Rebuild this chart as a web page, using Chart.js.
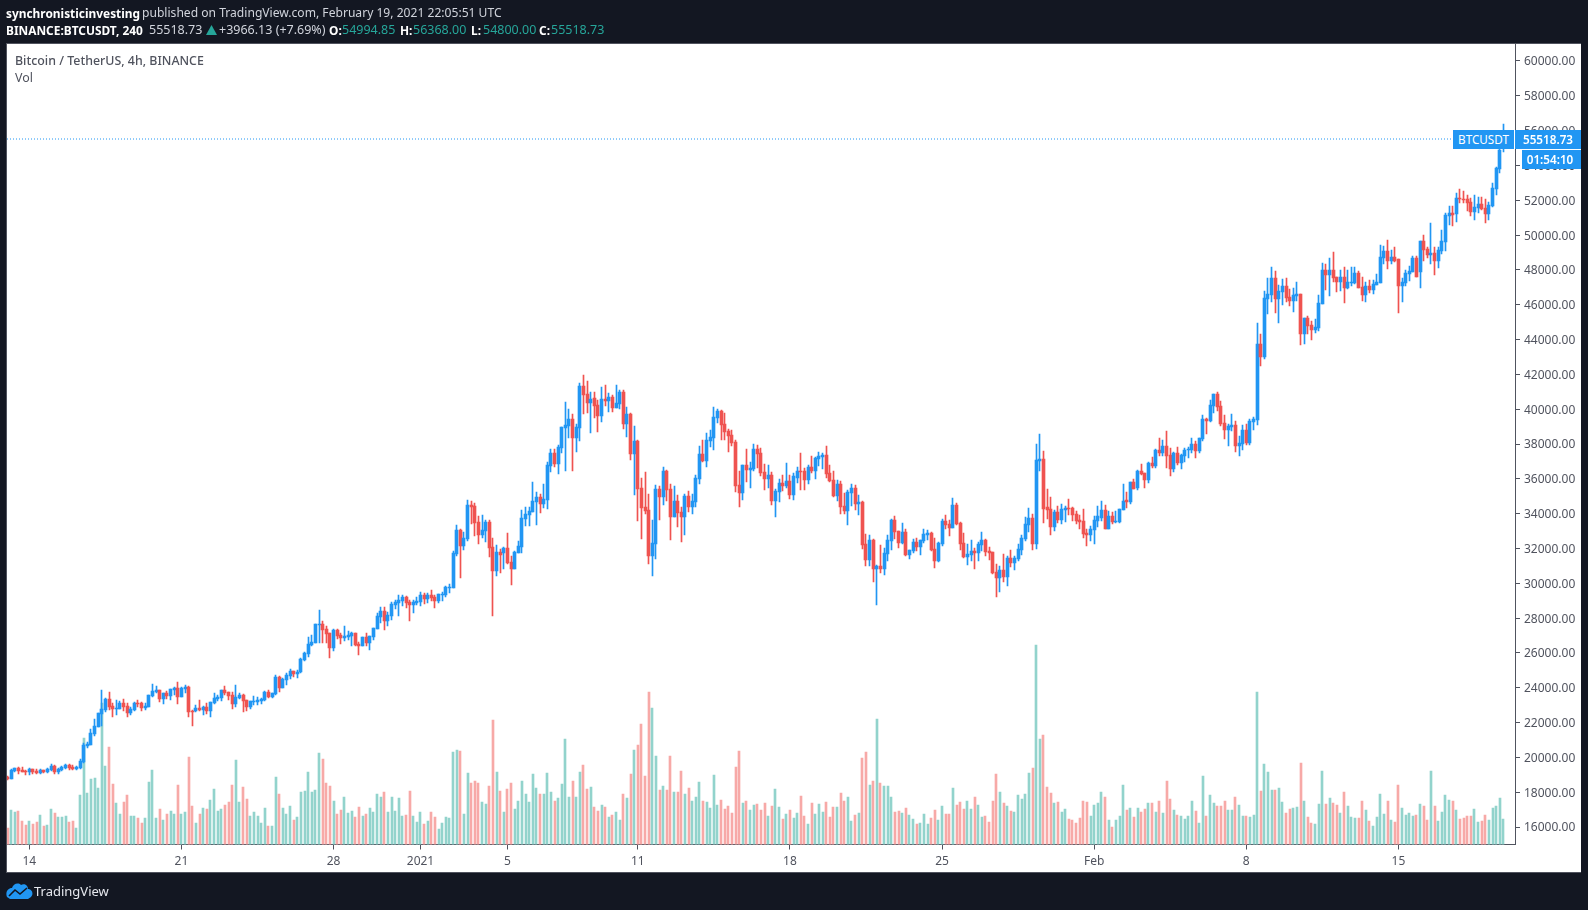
<!DOCTYPE html>
<html><head><meta charset="utf-8">
<style>
html,body{margin:0;padding:0;background:#131722;width:1588px;height:910px;overflow:hidden;font-family:"Noto Sans",sans-serif}
.t{position:absolute;white-space:nowrap}
#panel{position:absolute;left:6px;top:43px;width:1575px;height:830px;background:#fff;box-sizing:border-box;border:1px solid #50535e;border-right:0}
canvas{position:absolute;left:0;top:0}
.b{color:#fff;font-weight:700;font-size:11.9px}.g{color:#26a69a}.w{color:#d1d4dc}
.h{top:21px;font-size:12.5px;line-height:18px}
.badge{position:absolute;background:#2196f3;color:#fff;font-size:11.7px;text-align:center;box-sizing:border-box}
</style></head><body>
<div id="panel"></div>
<canvas id="c" width="1588" height="910"></canvas>
<div class="t b" style="left:6px;top:4px;line-height:18px">synchronisticinvesting</div>
<div class="t w" style="left:142px;top:4px;font-size:12.1px;line-height:18px">published on TradingView.com, February 19, 2021 22:05:51 UTC</div>
<div class="t b h" style="left:6px;font-size:11.9px">BINANCE:BTCUSDT, 240</div>
<div class="t w h" style="left:149px">55518.73</div>
<svg class="t" style="left:206px;top:25px" width="11" height="10" viewBox="0 0 11 10"><polygon points="5.5,0 11,10 0,10" fill="#26a69a"/></svg>
<div class="t w h" style="left:219px">+3966.13 (+7.69%)</div>
<div class="t b h" style="left:329px;font-size:11.9px">O:</div><div class="t g h" style="left:342px">54994.85</div>
<div class="t b h" style="left:400px;font-size:11.9px">H:</div><div class="t g h" style="left:413px">56368.00</div>
<div class="t b h" style="left:471px;font-size:11.9px">L:</div><div class="t g h" style="left:483px">54800.00</div>
<div class="t b h" style="left:539px;font-size:11.9px">C:</div><div class="t g h" style="left:551px">55518.73</div>
<div class="t" style="left:15px;top:52px;font-size:12.4px;line-height:18px;color:#50535e;font-weight:500">Bitcoin / TetherUS, 4h, BINANCE</div>
<div class="t" style="left:15px;top:69px;font-size:12.4px;line-height:18px;color:#50535e">Vol</div>
<div class="badge" style="left:1453px;top:130px;width:61px;height:19px;line-height:19px">BTCUSDT</div>
<div class="badge" style="left:1515px;top:130px;width:66px;height:19px;line-height:19px;font-weight:600">55518.73</div>
<div class="badge" style="left:1522px;top:150px;width:59px;height:19px;line-height:19px;font-weight:600;padding-right:3px">01:54:10</div>
<svg class="t" style="left:6px;top:882px" width="27" height="17" viewBox="0 0 27 17"><path d="M1 15 C-1 10 2 6 6 6 C7 2 12 0 15 3 C18 1 22 3 22 7 C26 7 28 12 25 15 L22 17 L4 17 Z" fill="#2196f3"/><path d="M3 14 L9 8 L14 12 L21 6" fill="none" stroke="#131722" stroke-width="1.6"/></svg>
<div class="t" style="left:34px;top:882px;font-size:13px;line-height:18px;color:#e6e8ee">TradingView</div>
<script src="https://cdn.jsdelivr.net/npm/chart.js@4"></script>
<script>
const opens=[18850,18760,19200,19370,19270,19220,19160,19330,19200,19100,
19270,19160,19270,19500,19160,19270,19390,19560,19450,19330,
19390,19730,20650,20710,21340,21740,22490,22720,23350,22950,
22780,22780,23120,22950,22550,22720,23120,23120,22840,22890,
23530,23760,23870,23350,23700,23530,23870,23980,23470,23930,
24040,22660,22660,22840,22720,22890,22660,23120,23350,23410,
23870,23760,23580,23070,23410,23580,23300,22890,23180,23180,
23240,23300,23760,23470,23640,24620,23980,24440,24670,24960,
24790,
24900,25591,25936,26454,26568,27602,27660,27373,27143,26281,
27315,27028,26856,26913,26970,27143,26511,26396,26913,26568,
26913,27373,28062,28407,27832,28119,28751,28866,28981,29211,
28923,28751,28866,28923,29326,29096,29326,29211,28981,29326,
29326,29728,29728,31681,33060,32141,32543,34496,34439,33520,
32773,33002,33520,32083,30705,31796,31739,32026,31222,30820,
31739,32083,33692,33922,34094,34668,34956,34554,34782,36735,
37482,36850,37769,38918,39033,39435,38344,38918,41331,40872,
40355,40642,40240,39608,40584,40470,40699,40067,40297,40987,
39148,39723,37425,38172,35471,34380,34208,31565,32254,35414,
34954,36448,35414,33805,34725,34093,33805,35012,34380,34667,
35988,37425,37023,38172,38344,39493,39895,39148,38746,38516,
38114,35644,35184,36793,36506,36563,37712,37482,36391,35989,
36218,34725,35241,35759,35586,35874,35069,36046,36448,36448,
35931,36678,36448,37138,37252,37367,36334,35932,35013,35702,
34439,34151,35185,35472,34553,34668,32255,31336,32485,30819,
30991,30819,31681,32428,33634,33002,32312,32945,31623,31853,
32370,32083,32428,32772,32887,31968,31279,32255,33577,33404,
33174,34496,33462,32313,31508,31623,31853,31738,32198,32485,
31853,31796,30647,30302,30762,30359,31451,31164,31394,31911,
32542,33347,33749,32255,37024,37139,34381,34266,33232,34094,
33634,34209,34323,34323,33979,33634,33577,32887,32772,33060,
33577,33750,34210,33118,33865,33520,33520,34210,34782,34667,
35816,35471,36448,36333,35930,36907,36735,37654,37482,37884,
37367,36563,37482,36907,37309,37654,37654,38000,37597,38286,
39435,39320,40182,40871,40182,39205,38803,38975,39090,37884,
38000,38803,38056,39262,39377,43744,42997,46329,46559,47535,
46329,46731,47076,46444,46214,46501,46616,44318,45237,44834,
44546,44661,46040,47993,47706,47993,47591,47304,47591,46959,
47247,47247,47821,47017,46558,47074,46844,47132,47247,48683,
49085,48511,48740,48625,47074,47247,47764,47879,48683,47879,
49660,49200,48855,48970,48510,49085,49602,51096,51268,51210,
52130,52072,52072,51900,51325,51555,51785,51555,51211,51670,
52647,53795,54994.85];
const highs=[18910,19330,19390,19430,19430,19270,19390,19330,19330,19330,
19270,19390,19620,19560,19390,19500,19620,19620,19560,19500,
19900,20830,20880,21630,22200,22550,23870,23410,23760,23120,
23300,23240,23350,23120,22890,23180,23300,23180,23120,23580,
24210,24100,23870,23700,23810,23930,24040,24330,24040,24160,
24100,22720,23010,23300,22950,23120,23180,23700,23580,23870,
24100,23760,23760,24160,23700,23640,23300,23240,23530,23470,
23410,23810,23870,23700,24730,24670,24560,24850,25080,24960,
25020,
25706,26050,26913,27028,27660,28464,27832,27545,27143,27373,
27373,27143,27545,27258,27200,27143,26626,26913,27143,26970,
27430,28292,28636,28636,28349,28923,29038,29326,29326,29268,
29038,29038,29211,29498,29441,29441,29613,29326,29383,29498,
29843,29958,31854,33347,33117,32945,34784,34726,34611,33864,
33922,33634,33634,32600,32198,31969,32083,32888,31566,31854,
32428,34209,34381,34400,35818,35243,35128,35701,36965,37712,
37712,37942,38976,40412,40010,39723,39148,41504,41963,41619,
40987,40987,40527,41274,41389,40929,40814,41389,41102,41102,
40125,39780,39033,38229,36046,36391,35127,33633,35644,35586,
36678,36505,35701,35586,35069,34380,35127,35299,35127,36218,
37884,38229,38631,38803,40125,40010,39952,39780,38861,38803,
38229,36448,36793,37712,36965,37999,37942,37769,36850,36793,
36391,35414,35988,36218,36908,36218,36333,36678,37482,36620,
36793,37310,37252,37540,37482,37884,36794,36449,35932,35875,
35185,35358,35702,35645,35070,34726,32830,32772,32542,31049,
32198,32025,32772,33692,33864,33002,33462,33117,31911,32542,
32600,32485,33117,33060,32945,32600,32370,33692,33921,33634,
34898,34611,33519,32887,32255,32485,32025,32370,32945,32542,
32083,31796,31106,30991,31681,31566,31911,31566,32255,32772,
33806,34323,33979,38000,38575,37598,35415,34955,34209,34438,
34553,34438,34841,34381,34151,33921,34266,33117,33289,33864,
34438,34727,34497,34152,34095,34152,34267,35703,35241,35816,
35988,36505,36850,36333,36965,37252,37712,38343,38228,38745,
37769,37539,37826,37424,37769,37826,38343,38171,38343,39665,
39492,40527,40871,40986,40469,39665,39148,39722,39320,38458,
39090,39148,39435,39550,44950,44318,46788,47535,48167,47938,
47133,47478,47535,46903,46961,47306,46616,45237,45352,45063,
45178,46557,48396,48338,48683,49028,47591,47993,48166,47993,
48166,48166,47936,47591,47304,47419,47419,47764,49430,49372,
49717,49143,49315,48625,47534,47993,48223,48798,48798,49660,
50004,49315,50694,49315,49315,50291,51268,51670,51670,52417,
52647,52532,52302,52130,52302,52187,52187,52072,51900,52992,
53911,54944,56368];
const lows=[18720,18760,19160,19040,19160,18990,18990,19040,19040,19040,
19100,19100,19220,19040,19040,19220,19330,19270,19270,19270,
19330,19680,20540,20710,21230,21740,21800,22610,22720,22320,
22430,22780,22660,22320,22430,22660,22890,22660,22720,22890,
23470,23700,23180,23070,23350,23300,23580,23070,23470,23700,
22320,21800,22610,22660,22430,22490,22320,23070,23240,23240,
23580,23300,22780,22890,23350,22610,22660,22780,23010,23010,
23070,23240,23410,23410,23580,23760,23980,24160,24500,24620,
24560,
24850,25530,25764,26396,26568,26568,26568,26568,25706,26108,
26798,26511,26683,26741,26396,26396,25879,26396,26396,26166,
26741,27373,27717,27315,27545,27890,28521,28119,28694,28579,
27832,28292,28751,28694,28809,28866,28981,28579,28866,28981,
29211,29441,29728,31566,30302,31911,32428,33405,32715,32256,
32600,32371,31509,28119,30417,30590,30820,31107,29900,30820,
31739,31739,33290,33290,34094,33347,34037,34324,34265,36391,
36678,36276,37482,36448,38344,36448,37540,38172,39723,39780,
38631,39493,38689,39263,40182,39838,39838,40067,40010,38861,
38401,37080,35069,33576,32541,33978,31105,30416,31393,33633,
34495,34725,32484,33805,33231,32369,32771,34093,33978,34380,
35701,36965,36678,37827,37655,39206,38229,38229,37540,37884,
35241,34380,34782,35816,35471,36448,36620,36161,35357,35471,
34495,33805,34667,35299,35471,34840,34782,35759,35357,35357,
35701,36333,35989,36735,36563,36046,35817,34955,34726,33979,
33979,33347,34438,34209,33921,31968,30991,30991,30072,28770,
30589,30474,31279,31911,32542,32025,32255,31566,31394,31738,
31853,31623,32313,32485,31853,30876,31221,32140,33117,32715,
33174,33347,31911,31451,31049,31279,30819,31279,31853,31566,
31336,30532,29210,29498,30072,29842,30934,30762,31279,31623,
32428,32945,31911,31968,36449,33462,33692,32772,33002,33462,
33404,33519,33921,33577,33404,33117,32600,32140,32428,32255,
33232,33577,33118,33118,33405,33463,33463,34210,34322,34552,
35414,35356,36218,35471,35758,36620,36620,37309,37309,36620,
36160,36390,36793,36563,36965,37194,37482,37194,37482,38171,
38573,39263,39779,39894,39033,38286,37884,38745,37539,37309,
37654,37941,37941,38803,39090,42480,42882,45467,46157,45525,
44950,45984,46157,45927,45582,46214,43686,43744,44318,43972,
44374,44489,46040,46845,46500,47304,46730,46817,46098,46902,
47074,47189,46959,46213,46155,46672,46615,47132,47247,48338,
48051,48338,48453,45523,46155,47074,47362,47879,47591,46959,
48510,48683,48338,47706,48108,48913,49085,50579,50521,50751,
51843,51843,51383,51096,50866,51268,51440,50694,50866,51613,
52302,53566,54800];
const closes=[18780,19270,19390,19200,19160,19160,19330,19160,19100,19270,
19160,19330,19500,19160,19330,19450,19560,19390,19330,19450,
19790,20710,20770,21400,21800,22550,22780,23350,22890,22780,
22840,23120,22890,22550,22780,23120,23070,22840,22950,23580,
23810,23870,23350,23700,23530,23930,23980,23470,23980,24040,
22610,22610,22840,22720,22890,22660,23180,23410,23470,23870,
23700,23530,23070,23470,23580,23240,22890,23240,23240,23300,
23350,23760,23470,23700,24620,23980,24500,24730,24960,24790,
24900,
25668,25994,26511,26626,27660,27660,27315,27085,26281,27315,
26970,26856,26970,27028,27143,26454,26396,26913,26568,26970,
27430,28119,28407,27832,28177,28809,28923,29038,29211,28866,
28751,28923,28981,29326,29096,29326,29153,28981,29383,29383,
29785,29785,31739,33060,32141,32600,34496,34381,33462,32773,
33060,33520,32026,30705,31796,31624,32026,31164,30820,31796,
32141,33749,33979,34151,34726,34956,34554,34841,36793,37482,
36850,37827,38976,39091,39435,38344,38976,41331,40814,40355,
40584,40182,39608,40584,40470,40699,40067,40355,40987,39148,
39723,37425,38172,35414,34322,34150,31565,32312,35414,34954,
36448,35357,33805,34725,34035,33805,35012,34380,34725,36046,
37425,37023,38229,38401,39550,39895,39091,38689,38459,38057,
35586,35184,36793,36506,36620,37712,37425,36333,35989,36218,
34725,35299,35759,35586,35874,35069,36161,36448,36391,35931,
36678,36448,37195,37310,37367,36276,35875,35013,35702,34381,
34151,35243,35472,34553,34668,32198,31336,32485,30819,30991,
30819,31738,32485,33634,32945,32312,32945,31623,31911,32370,
32083,32485,32830,32887,31911,31279,32313,33577,33347,33174,
34496,33404,32255,31508,31681,31853,31738,32255,32485,31796,
31738,30589,30302,30762,30359,31451,31164,31451,31968,32600,
33404,33749,32255,37081,37139,34266,34209,33232,34094,33634,
34266,34323,34266,33921,33577,33519,32830,32772,33117,33634,
33864,34210,33118,33865,33520,33577,34267,34727,34667,35816,
35414,36448,36275,35930,36907,36735,37654,37482,37884,37309,
36563,37482,36907,37367,37654,37712,38000,37597,38343,39435,
39320,40239,40871,40124,39148,38803,39033,39090,37884,38056,
38803,38056,39320,39435,43744,42997,46386,46616,47535,46329,
46789,47076,46386,46214,46559,46616,44318,45237,44778,44546,
44719,46098,47993,47706,47993,47534,47304,47591,46959,47304,
47304,47821,46959,46558,47074,46844,47189,47304,48740,49085,
48511,48740,48511,47074,47304,47821,47936,48683,47591,49660,
49143,48855,48970,48510,49143,49660,51153,51268,51153,52130,
52072,52015,51843,51325,51613,51785,51498,51211,51728,52705,
53853,54887,55518.73];
const volumes=[49,103,97,100,70,58,70,61,67,88,
55,58,106,94,82,82,85,67,70,49,
148,319,154,196,199,169,424,235,292,181,
124,91,127,148,85,85,79,64,79,187,
223,79,106,73,91,100,91,178,91,97,
262,115,64,91,109,106,133,166,100,106,
118,127,178,253,127,172,136,85,97,85,
64,109,55,55,202,151,109,91,115,73,
82,157,160,217,157,163,274,256,184,175,
130,91,103,142,94,100,82,112,85,91,
109,97,151,142,157,97,142,100,139,85,
88,160,85,67,97,61,70,97,82,46,
64,82,79,277,283,280,91,214,184,190,
184,127,121,175,375,217,162,99,168,186,
108,132,192,153,129,213,171,153,153,216,
159,132,141,183,318,144,192,144,219,240,
168,174,114,102,120,114,84,90,99,75,
153,141,213,285,300,363,207,459,411,267,
165,177,165,267,159,159,222,153,171,132,
144,189,132,129,111,210,120,135,108,117,
96,234,282,126,132,105,120,123,105,126,
87,117,168,114,78,93,105,81,96,147,
87,63,126,93,123,99,129,84,114,114,
156,132,144,72,90,96,261,279,180,192,
378,186,177,177,144,99,102,96,111,90,
78,63,66,93,63,81,105,75,117,93,
93,171,120,129,108,132,108,144,120,84,
87,69,132,213,159,126,117,102,99,150,
138,153,216,231,600,318,330,174,156,126,
129,99,108,78,75,66,81,132,129,87,
120,126,159,144,75,54,75,87,180,105,
111,84,111,99,108,126,126,99,132,96,
192,138,105,90,87,78,87,132,102,66,
207,87,150,126,117,117,132,105,105,144,
120,87,87,84,90,459,162,243,219,165,
165,171,129,96,108,111,114,246,132,84,
66,63,123,222,123,141,126,120,96,159,
117,84,81,81,132,105,72,57,84,153,
93,132,75,69,180,111,90,96,87,90,
123,117,75,222,117,72,99,150,135,132,
105,78,81,87,87,108,69,72,90,75,
111,117,141,78];
const timeTickPositions=[6,48,90,114,138,174,216,258,300,342,384];
const timeTickLabels=["14","21","28","2021","5","11","18","25","Feb","8","15"];
const priceTicks=[16000,18000,20000,22000,24000,26000,28000,30000,32000,34000,36000,38000,40000,42000,44000,46000,48000,50000,52000,54000,56000,58000,60000];
const lastPrice=55518.73;

const UP="#2196f3",DOWN="#ef5350",VOL_UP="#92d3cc",VOL_DOWN="#f7a9a7",AXIS="#50535e";
const xMin=-0.17,xMax=416.2;
const isUp=i=>closes[i]>=opens[i];
const snap={id:"snap",afterDatasetsUpdate(chart){
  chart.data.datasets.forEach((ds,k)=>{
    if(ds.type==="line")return;
    chart.getDatasetMeta(k).data.forEach(el=>{
      el.x=ds.snapEven?Math.round(el.x):Math.floor(el.x)+0.5;
      el.y=Math.round(el.y);el.base=Math.round(el.base);
      if(el.y===el.base)el.base+=1;
    });
  });
}};
new Chart(document.getElementById("c"),{
  type:"bar",
  plugins:[snap],
  data:{datasets:[
    {type:"line",order:0,data:[{x:xMin,y:lastPrice},{x:xMax,y:lastPrice}],borderColor:UP,borderWidth:1,borderDash:[1,2],pointRadius:0,yAxisID:"y"},
    {order:1,label:"body",grouped:false,barThickness:3,yAxisID:"y",data:opens.map((o,i)=>({x:i,y:[o,closes[i]]})),backgroundColor:opens.map((o,i)=>isUp(i)?UP:DOWN)},
    {order:2,label:"wick",grouped:false,barThickness:1,yAxisID:"y",data:lows.map((l,i)=>({x:i,y:[l,highs[i]]})),backgroundColor:opens.map((o,i)=>isUp(i)?UP:DOWN)},
    {order:3,label:"Vol",grouped:false,barThickness:2,snapEven:true,yAxisID:"yVol",data:volumes.map((v,i)=>({x:i,y:v})),backgroundColor:opens.map((o,i)=>isUp(i)?VOL_UP:VOL_DOWN)}
  ]},
  options:{
    responsive:false,animation:false,devicePixelRatio:1,
    layout:{padding:{left:7,top:43.5,right:7,bottom:37}},
    plugins:{legend:{display:false},tooltip:{enabled:false}},
    scales:{
      x:{type:"linear",min:xMin,max:xMax,offset:false,
        grid:{offset:false,drawOnChartArea:false,color:AXIS,tickLength:5},
        border:{display:true,color:AXIS},
        ticks:{autoSkip:false,maxRotation:0,color:AXIS,padding:5,font:{family:"Noto Sans",size:12},
          callback:v=>{const k=timeTickPositions.indexOf(v);return k<0?"":timeTickLabels[k];}},
        afterBuildTicks(s){s.ticks=timeTickPositions.map(v=>({value:v}));},
        afterFit(s){s.height=28.5;}
      },
      y:{type:"linear",position:"right",min:14995,max:61005,
        grid:{offset:false,drawOnChartArea:false,color:AXIS,tickLength:5},
        border:{display:true,color:AXIS},
        ticks:{color:AXIS,padding:4,labelOffset:1,font:{family:"Noto Sans",size:12},callback:v=>v.toFixed(2)},
        afterBuildTicks(s){s.ticks=priceTicks.map(v=>({value:v}));},
        afterFit(s){s.width=66;}
      },
      yVol:{type:"linear",display:false,min:0,max:2403}
    }
  }
});
</script>
</body></html>
